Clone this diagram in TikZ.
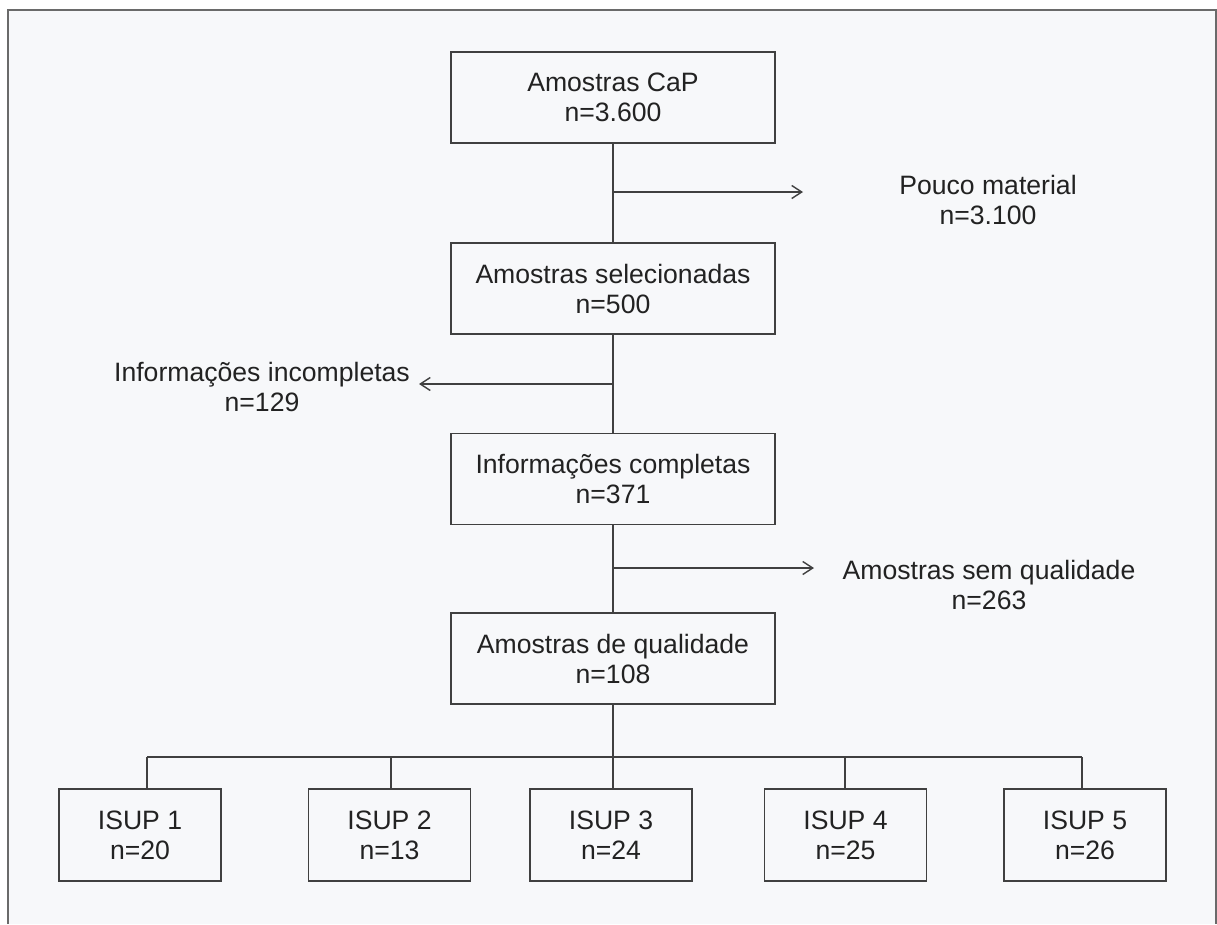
\documentclass[tikz,border=0pt]{standalone}
\usepackage{fontspec}
\setmainfont{Liberation Sans}
\usetikzlibrary{arrows.meta}
\definecolor{bgc}{HTML}{F7F8FA}
\definecolor{framec}{HTML}{6A6A6A}
\definecolor{linec}{HTML}{404040}
\definecolor{textc}{HTML}{222222}
\tikzset{
  boxnode/.style={draw=linec, line width=1.6pt, fill=bgc, inner sep=0pt, align=center,
     text=textc, font=\fontsize{26.6}{30}\selectfont},
  bigbox/.style={boxnode, minimum width=324pt, minimum height=91pt},
  smallbox/.style={boxnode, minimum width=162pt, minimum height=92pt},
  sidelabel/.style={inner sep=0pt, align=center, text=textc, font=\fontsize{26.6}{30}\selectfont},
  conn/.style={draw=linec, line width=1.4pt},
  arr/.style={conn, -{Straight Barb[length=10pt, width=13pt, line width=1.4pt]}}
}
\begin{document}
\begin{tikzpicture}[x=1pt, y=-1pt]
\useasboundingbox (0,0) rectangle (1217,924);
\fill[white] (0,0) rectangle (1217,924);
\fill[bgc] (7.5,9.5) rectangle (1216,924);
\draw[framec, line width=2pt] (7.5,924) -- (7.5,9.5) -- (1216,9.5) -- (1216,924);

% main column
\node[bigbox] (b1) at (613,97.5) {Amostras CaP\\n=3.600};
\node[bigbox] (b2) at (613,288.5) {Amostras selecionadas\\n=500};
\node[bigbox] (b3) at (613,479) {Informações completas\\n=371};
\node[bigbox] (b4) at (613,658.5) {Amostras de qualidade\\n=108};

\draw[conn] (b1.south) -- (b2.north);
\draw[conn] (b2.south) -- (b3.north);
\draw[conn] (b3.south) -- (b4.north);

% side exclusions
\node[sidelabel] (l1) at (988,200) {Pouco material\\n=3.100};
\node[sidelabel] (l2) at (262,387) {Informações incompletas\\n=129};
\node[sidelabel] (l3) at (989,585) {Amostras sem qualidade\\n=263};

\coordinate (j1) at (613,192);
\coordinate (t1) at (803,192);
\coordinate (j2) at (613,384);
\coordinate (t2) at (419,384);
\coordinate (j3) at (613,568);
\coordinate (t3) at (814,568);
\draw[arr] (j1) -- (t1);
\draw[arr] (j2) -- (t2);
\draw[arr] (j3) -- (t3);

% bottom ISUP boxes
\node[smallbox] (i1) at (140,835) {ISUP 1\\n=20};
\node[smallbox] (i2) at (389.5,835) {ISUP 2\\n=13};
\node[smallbox] (i3) at (611,835) {ISUP 3\\n=24};
\node[smallbox] (i4) at (845.5,835) {ISUP 4\\n=25};
\node[smallbox] (i5) at (1085,835) {ISUP 5\\n=26};

\coordinate (d1) at (147,757);
\coordinate (d2) at (391,757);
\coordinate (d3) at (613,757);
\coordinate (d4) at (845,757);
\coordinate (d5) at (1082,757);

\draw[conn] (b4.south) -- (d3);
\draw[conn] (d1) -- (d5);
\draw[conn] (d1) -- (d1 |- i1.north);
\draw[conn] (d2) -- (d2 |- i2.north);
\draw[conn] (d3) -- (d3 |- i3.north);
\draw[conn] (d4) -- (d4 |- i4.north);
\draw[conn] (d5) -- (d5 |- i5.north);
\end{tikzpicture}
\end{document}
